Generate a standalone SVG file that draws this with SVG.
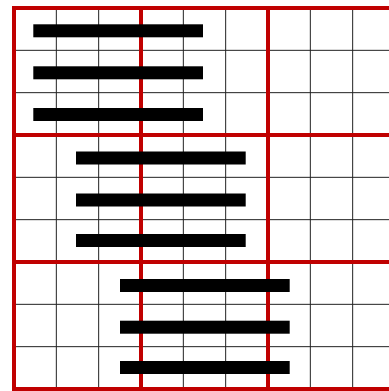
<svg xmlns="http://www.w3.org/2000/svg" width="389" height="391" viewBox="0 0 389 391">
<style>
.g{stroke:#222;stroke-width:1;fill:none}
.r{stroke:#c00000;stroke-width:4;fill:none}
.b{fill:#000}
</style>
<rect width="389" height="391" fill="#fff"/>
<g id="grid">
<path class="g" d="M56.33 8V389M98.67 8V389M183.33 8V389M225.67 8V389M310.33 8V389M352.67 8V389M14 50.33H389M14 92.67H389M14 177.33H389M14 219.67H389M14 304.33H389M14 346.67H389"/>
</g>
<g id="blocks">
<path class="r" d="M12 8H389M12 135H389M12 262H389M12 389H389M14 6V391M141 6V391M268 6V391"/>
</g>
<g id="bars">
<rect class="b" x="33.3" y="24.3" width="169.7" height="13"/>
<rect class="b" x="33.3" y="66.3" width="169.7" height="13"/>
<rect class="b" x="33.3" y="108" width="169.7" height="13"/>
<rect class="b" x="76" y="151.5" width="169.7" height="13"/>
<rect class="b" x="76" y="193.5" width="169.7" height="13"/>
<rect class="b" x="76" y="234" width="169.7" height="13"/>
<rect class="b" x="120" y="279" width="169.7" height="13"/>
<rect class="b" x="120" y="320.7" width="169.7" height="13"/>
<rect class="b" x="120" y="361" width="169.7" height="13"/>
</g>
</svg>
